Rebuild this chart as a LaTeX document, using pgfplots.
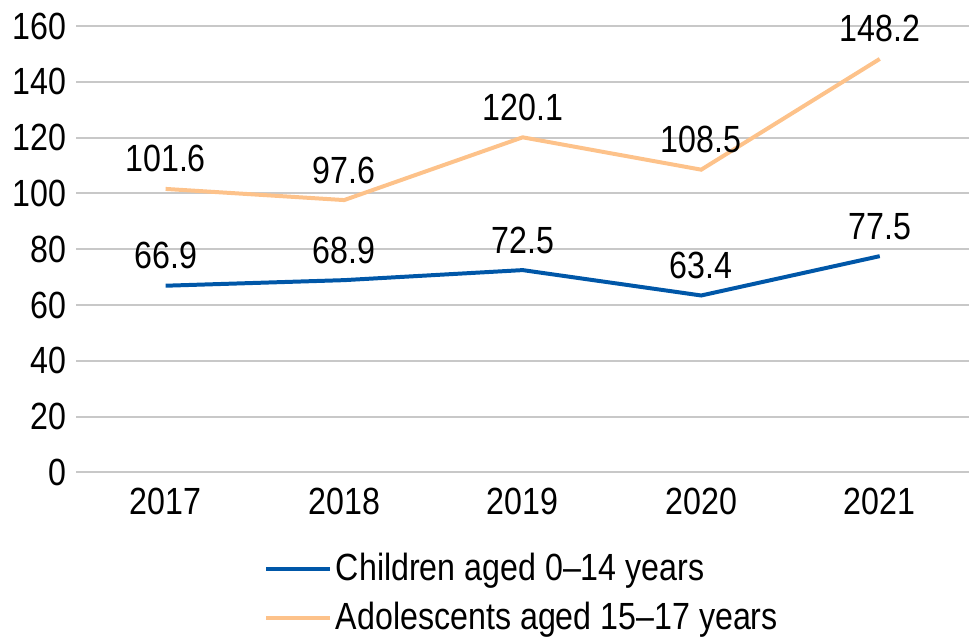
\documentclass[border=0pt]{standalone}
\usepackage{pgfplots}
\pgfplotsset{compat=1.18}
\usepackage{fontspec}
\setmainfont[FakeStretch=0.85]{Liberation Sans}
\definecolor{kidsblue}{HTML}{0057A8}
\definecolor{teenorange}{HTML}{FDC28A}
\definecolor{gridgray}{HTML}{C8C8C8}
\begin{document}
\fontsize{19}{22}\selectfont
\begin{tikzpicture}
  \begin{axis}[
    scale only axis,
    width=448pt, height=224pt,
    xmin=-0.5, xmax=4.5,
    ymin=0, ymax=160,
    xtick={0,1,2,3,4},
    xticklabels={2017,2018,2019,2020,2021},
    ytick={0,20,...,160},
    /pgf/number format/assume math mode=true,
    axis line style={draw=none},
    major tick length=0pt,
    ymajorgrids,
    grid style={gridgray, line width=1pt},
    tick label style={font=\fontsize{19}{22}\selectfont},
    xticklabel style={yshift=-1.5pt},
    yticklabel style={xshift=1.5pt},
    clip=false,
    nodes near coords={\pgfmathprintnumber[fixed,fixed zerofill,precision=1]{\pgfplotspointmeta}},
    every node near coord/.append style={font=\fontsize{19}{22}\selectfont, black, anchor=south, yshift=1pt},
    legend cell align=left,
    legend style={at={(0.21,-0.17)}, anchor=north west, draw=none, fill=none,
      inner sep=0pt, font=\fontsize{19}{22}\selectfont,
      row sep=4pt},
    legend image code/.code={\draw[#1] (0pt,0pt) -- (24.5pt,0pt); \path (0pt,0pt) -- (32pt,0pt);},
  ]
    \addplot[kidsblue, line width=2pt] coordinates
      {(0,66.9) (1,68.9) (2,72.5) (3,63.4) (4,77.5)};
    \addplot[teenorange, line width=2pt] coordinates
      {(0,101.6) (1,97.6) (2,120.1) (3,108.5) (4,148.2)};
    \legend{Children aged 0--14 years, Adolescents aged 15--17 years}
  \end{axis}
\end{tikzpicture}
\end{document}
